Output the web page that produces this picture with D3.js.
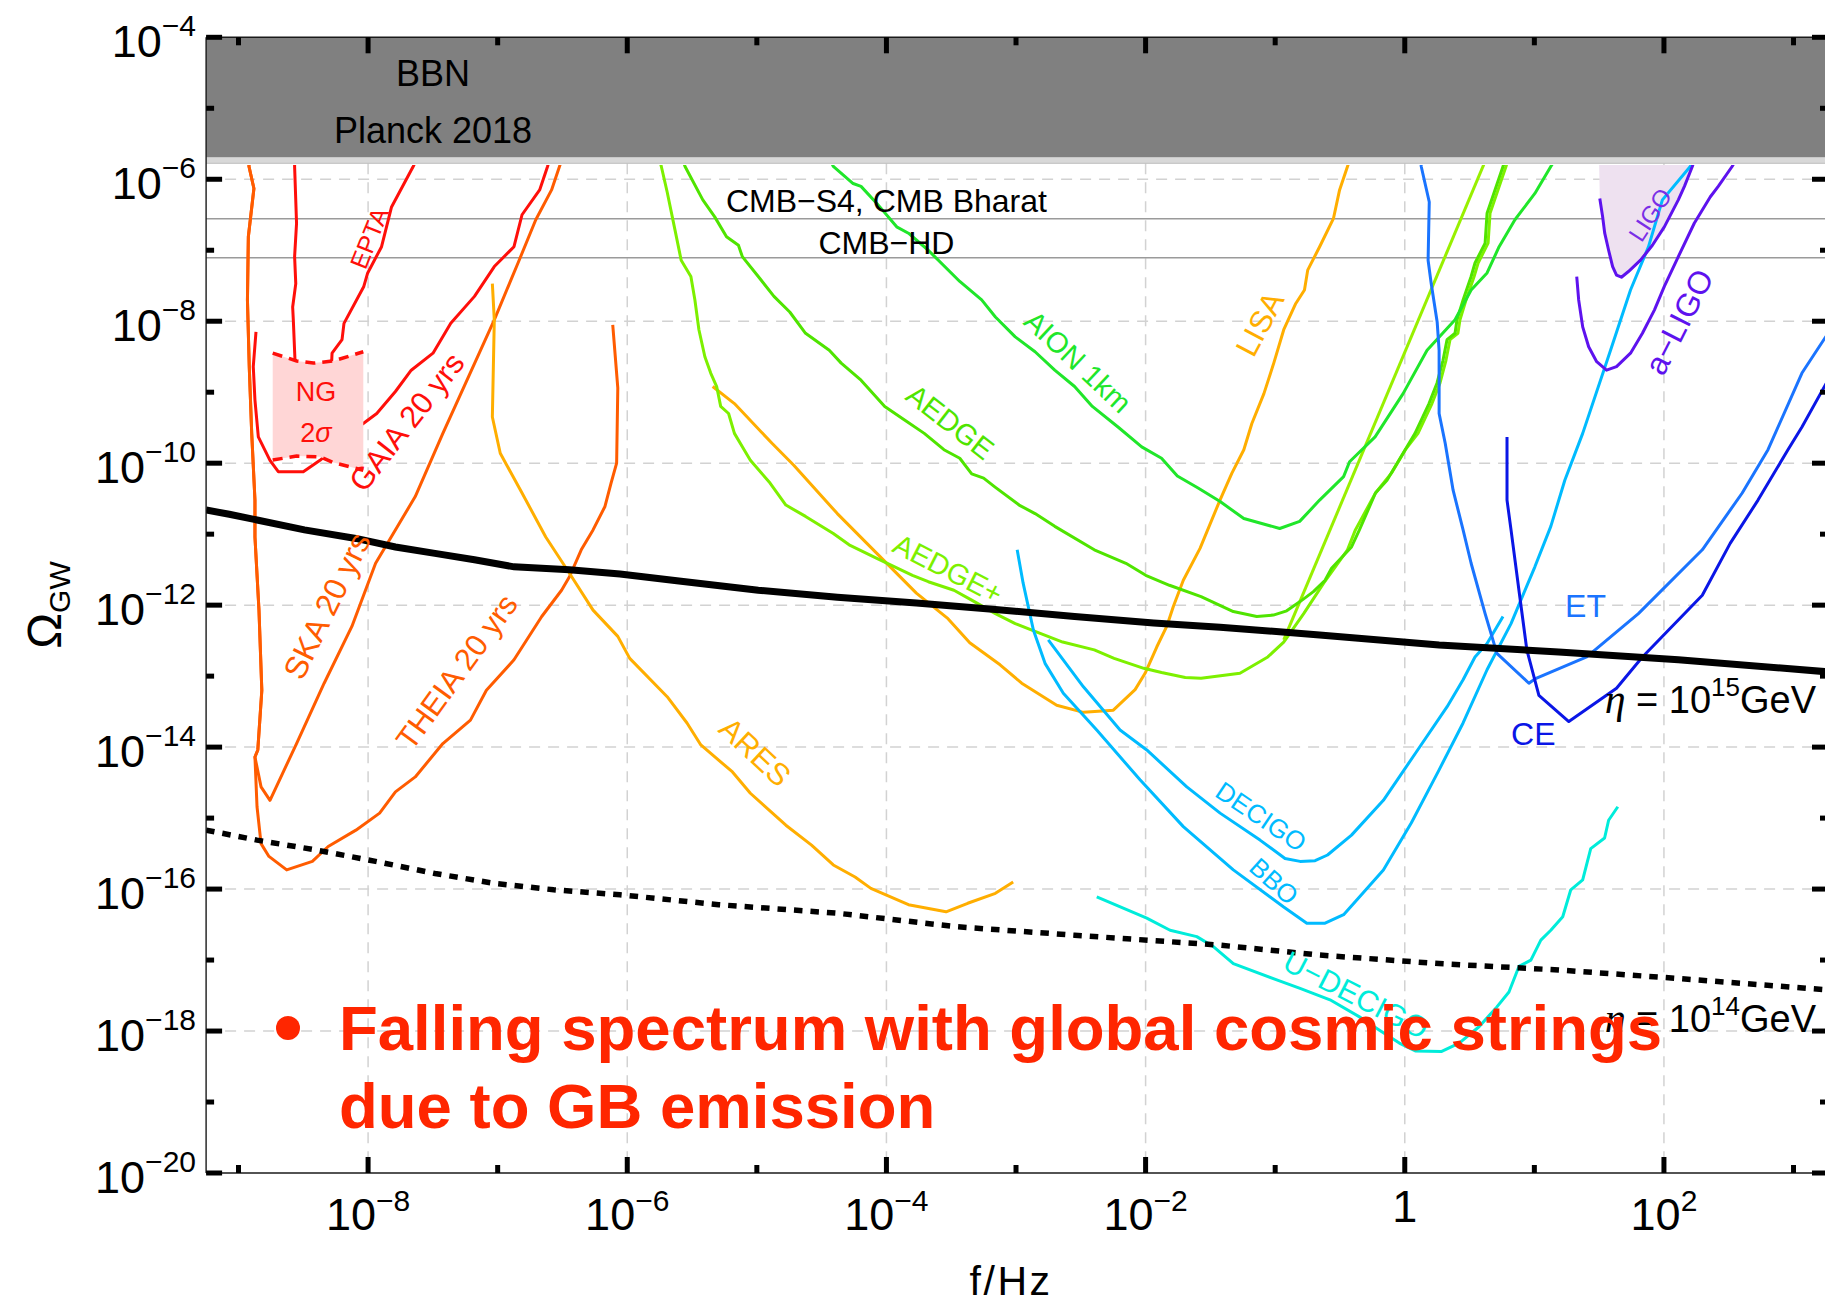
<!DOCTYPE html>
<html>
<head>
<meta charset="utf-8">
<script src="https://cdn.jsdelivr.net/npm/d3@7/dist/d3.min.js"></script>
<style>
  html,body{margin:0;padding:0;background:#ffffff;}
  svg{display:block;}
  text{font-family:"Liberation Sans",Arial,Helvetica,sans-serif;}
</style>
</head>
<body>
<svg id="chart" width="1825" height="1306"></svg>
<script>
// ===== axis ranges and ticks (log10 exponents) =====
const xDomainExp = [-9.25, 3.266];
const yDomainExp = [-20, -4];
const xMajorExp = [-8, -6, -4, -2, 0, 2];
const xMinorExp = [-9, -7, -5, -3, -1, 1, 3];
const yMajorExp = [-4, -6, -8, -10, -12, -14, -16, -18, -20];
const yMinorExp = [-5, -7, -9, -11, -13, -15, -17, -19];

// ===== horizontal bounds (log10 Omega) =====
const bbnBottomExp = -5.69;
const planckBottomExp = -5.775;
const curveTopExp = -5.80;
const cmbS4Exp = -6.556;
const cmbHDExp = -7.105;

// ===== sensitivity curves: [log10 f/Hz, log10 Omega_GW] =====
const SKA = [[-8.92,-5.70],[-8.919,-5.82],[-8.881,-6.13],[-8.924,-6.81],[-8.931,-7.70],[-8.917,-8.64],[-8.898,-9.58],[-8.873,-10.52],[-8.873,-11.04],[-8.842,-12.07],[-8.82,-13.20],[-8.851,-14.04],[-8.873,-14.14],[-8.826,-14.56],[-8.757,-14.75],[-8.552,-13.95],[-8.339,-13.10],[-8.125,-12.30],[-7.942,-11.41],[-7.636,-10.47],[-7.423,-9.58],[-7.026,-7.98],[-6.843,-7.18],[-6.706,-6.57],[-6.584,-6.15],[-6.523,-5.82],[-6.50,-5.70]];
const THEIA = [[-8.92,-5.70],[-8.919,-5.82],[-8.881,-6.13],[-8.924,-6.81],[-8.931,-7.70],[-8.917,-8.64],[-8.898,-9.58],[-8.873,-10.52],[-8.873,-11.04],[-8.842,-12.07],[-8.82,-13.20],[-8.851,-14.04],[-8.873,-14.14],[-8.857,-14.84],[-8.826,-15.36],[-8.765,-15.54],[-8.628,-15.73],[-8.43,-15.61],[-8.308,-15.40],[-8.094,-15.17],[-7.911,-14.93],[-7.789,-14.63],[-7.636,-14.42],[-7.423,-13.95],[-7.21,-13.62],[-7.087,-13.20],[-6.874,-12.77],[-6.66,-12.16],[-6.507,-11.79],[-6.446,-11.60],[-6.355,-11.22],[-6.264,-10.94],[-6.172,-10.61],[-6.125,-10.28],[-6.082,-10.00],[-6.073,-8.94],[-6.112,-8.05]];
const GAIA = [[-8.865,-8.15],[-8.886,-8.64],[-8.873,-9.11],[-8.847,-9.63],[-8.757,-9.96],[-8.693,-10.12],[-8.50,-10.12],[-8.371,-9.96],[-8.037,-9.44],[-7.933,-9.30],[-7.789,-8.99],[-7.667,-8.69],[-7.499,-8.45],[-7.362,-8.03],[-7.179,-7.65],[-7.026,-7.23],[-6.874,-6.95],[-6.812,-6.50],[-6.676,-6.15],[-6.615,-5.82],[-6.597,-5.70]];
const EPTA_low = [[-8.567,-5.70],[-8.567,-5.82],[-8.552,-6.62],[-8.567,-7.09],[-8.558,-7.47],[-8.582,-7.80],[-8.577,-7.98],[-8.564,-8.55]];
const EPTA_high = [[-8.281,-8.57],[-8.278,-8.45],[-8.201,-8.26],[-8.186,-8.03],[-8.033,-7.51],[-8.003,-7.32],[-7.896,-6.95],[-7.819,-6.39],[-7.652,-5.82],[-7.62,-5.70]];
const NG_top = [[-8.736,-8.45],[-8.551,-8.56],[-8.423,-8.59],[-8.268,-8.56],[-8.037,-8.43]];
const NG_bottom = [[-8.736,-9.955],[-8.551,-9.90],[-8.371,-9.91],[-8.268,-9.99],[-8.037,-10.10]];
const ARES = [[-7.041,-7.47],[-7.026,-7.98],[-7.041,-9.35],[-6.98,-9.86],[-6.812,-10.42],[-6.629,-11.04],[-6.446,-11.55],[-6.264,-12.07],[-6.073,-12.44],[-5.981,-12.75],[-5.692,-13.29],[-5.539,-13.66],[-5.432,-13.97],[-5.188,-14.35],[-5.05,-14.65],[-4.776,-15.10],[-4.578,-15.38],[-4.41,-15.66],[-4.242,-15.83],[-4.12,-15.99],[-3.83,-16.22],[-3.54,-16.32],[-3.373,-16.20],[-3.159,-16.06],[-3.022,-15.90]];
const LISA = [[-5.341,-8.92],[-5.173,-9.16],[-4.883,-9.72],[-4.715,-10.03],[-4.379,-10.71],[-4.074,-11.27],[-3.769,-11.83],[-3.525,-12.19],[-3.357,-12.53],[-3.123,-12.84],[-2.956,-13.10],[-2.686,-13.41],[-2.48,-13.51],[-2.249,-13.48],[-2.081,-13.19],[-2.004,-12.96],[-1.914,-12.59],[-1.837,-12.30],[-1.786,-12.02],[-1.709,-11.65],[-1.58,-11.20],[-1.426,-10.52],[-1.334,-10.14],[-1.242,-9.81],[-1.18,-9.44],[-1.087,-9.02],[-1.011,-8.59],[-0.934,-8.12],[-0.841,-7.75],[-0.774,-7.56],[-0.749,-7.28],[-0.657,-6.95],[-0.55,-6.55],[-0.503,-6.15],[-0.442,-5.82],[-0.42,-5.70]];
const AEDGEplus = [[-5.755,-5.70],[-5.737,-5.82],[-5.692,-6.18],[-5.631,-6.72],[-5.584,-7.14],[-5.509,-7.37],[-5.478,-7.70],[-5.447,-8.12],[-5.401,-8.50],[-5.356,-8.73],[-5.31,-8.92],[-5.279,-9.20],[-5.218,-9.30],[-5.173,-9.58],[-5.112,-9.77],[-5.05,-9.96],[-4.898,-10.28],[-4.776,-10.59],[-4.624,-10.75],[-4.41,-10.99],[-4.288,-11.15],[-4.074,-11.34],[-3.799,-11.58],[-3.677,-11.67],[-3.479,-11.79],[-3.342,-11.93],[-3.159,-12.12],[-3.006,-12.26],[-2.853,-12.37],[-2.64,-12.52],[-2.396,-12.63],[-2.243,-12.75],[-2.014,-12.89],[-1.877,-12.95],[-1.694,-13.02],[-1.572,-13.03],[-1.272,-12.96],[-1.057,-12.73],[-0.934,-12.52],[-0.78,-12.12],[-0.626,-11.69],[-0.442,-11.22],[-0.381,-10.94],[-0.226,-10.42],[-0.103,-10.14],[0.005,-9.81],[0.102,-9.58],[0.21,-9.16],[0.272,-8.87],[0.318,-8.55],[0.349,-8.26],[0.41,-8.17],[0.426,-7.98],[0.473,-7.70],[0.535,-7.37],[0.566,-7.18],[0.643,-6.90],[0.658,-6.48],[0.781,-5.82],[0.80,-5.70]];
const AEDGEplusEdge = [[-0.934,-12.49],[0.631,-5.70]];
const AEDGE = [[-5.577,-5.70],[-5.554,-5.82],[-5.417,-6.29],[-5.325,-6.53],[-5.234,-6.81],[-5.142,-6.93],[-5.112,-7.09],[-4.989,-7.37],[-4.868,-7.65],[-4.746,-7.87],[-4.624,-8.17],[-4.441,-8.41],[-4.349,-8.59],[-4.196,-8.83],[-4.013,-9.20],[-3.86,-9.39],[-3.708,-9.58],[-3.556,-9.81],[-3.434,-9.93],[-3.342,-10.15],[-3.25,-10.21],[-3.159,-10.34],[-2.976,-10.59],[-2.853,-10.71],[-2.701,-10.89],[-2.396,-11.22],[-2.152,-11.41],[-1.999,-11.58],[-1.816,-11.72],[-1.572,-11.88],[-1.323,-12.09],[-1.142,-12.16],[-1.014,-12.14],[-0.911,-12.08],[-0.808,-11.95],[-0.705,-11.81],[-0.615,-11.65],[-0.565,-11.48],[-0.411,-11.18],[-0.35,-10.94],[-0.226,-10.42],[-0.137,-10.24],[-0.013,-9.86],[0.079,-9.58],[0.187,-9.16],[0.249,-8.87],[0.295,-8.55],[0.326,-8.26],[0.388,-8.17],[0.403,-7.98],[0.45,-7.70],[0.512,-7.37],[0.542,-7.18],[0.62,-6.90],[0.635,-6.48],[0.758,-5.82],[0.78,-5.70]];
const AION = [[-4.44,-5.70],[-4.41,-5.82],[-4.257,-6.06],[-4.196,-6.10],[-4.074,-6.34],[-3.921,-6.67],[-3.83,-6.76],[-3.677,-7.00],[-3.434,-7.44],[-3.265,-7.70],[-3.159,-7.94],[-3.006,-8.22],[-2.853,-8.43],[-2.701,-8.69],[-2.548,-8.92],[-2.411,-9.20],[-2.213,-9.49],[-2.03,-9.77],[-1.877,-9.93],[-1.755,-10.18],[-1.595,-10.35],[-1.425,-10.54],[-1.242,-10.78],[-0.965,-10.92],[-0.811,-10.82],[-0.657,-10.52],[-0.472,-10.19],[-0.426,-9.98],[-0.229,-9.63],[-0.013,-9.02],[0.172,-8.41],[0.388,-7.98],[0.512,-7.56],[0.635,-7.32],[0.728,-6.95],[0.85,-6.57],[1.004,-6.20],[1.127,-5.82],[1.168,-5.70]];
const DECIGO = [[-2.751,-12.49],[-2.48,-13.15],[-2.197,-13.76],[-1.991,-14.04],[-1.682,-14.56],[-1.425,-14.93],[-1.117,-15.31],[-0.924,-15.57],[-0.808,-15.61],[-0.692,-15.60],[-0.596,-15.52],[-0.411,-15.24],[-0.165,-14.75],[0.081,-14.09],[0.327,-13.43],[0.45,-13.05],[0.542,-12.73],[0.635,-12.54],[0.758,-12.16]];
const BBO = [[-2.991,-11.22],[-2.945,-11.69],[-2.866,-12.35],[-2.776,-12.82],[-2.635,-13.24],[-2.377,-13.76],[-2.043,-14.46],[-1.709,-15.12],[-1.323,-15.73],[-0.937,-16.25],[-0.756,-16.48],[-0.615,-16.48],[-0.472,-16.36],[-0.35,-16.11],[-0.165,-15.73],[0.05,-15.07],[0.265,-14.32],[0.45,-13.66],[0.635,-12.91],[0.82,-12.26],[1.004,-11.46],[1.127,-10.89],[1.235,-10.24],[1.373,-9.58],[1.588,-8.41],[1.742,-7.56],[1.881,-6.95],[1.988,-6.29],[2.203,-5.82],[2.24,-5.70]];
const UDECIGO = [[-2.377,-16.11],[-1.991,-16.41],[-1.811,-16.58],[-1.605,-16.67],[-1.477,-16.81],[-1.323,-17.05],[-0.988,-17.28],[-0.808,-17.40],[-0.577,-17.56],[-0.35,-17.80],[-0.195,-17.99],[-0.042,-18.17],[0.081,-18.28],[0.281,-18.29],[0.42,-18.17],[0.573,-17.94],[0.711,-17.66],[0.804,-17.45],[0.881,-17.09],[0.973,-17.00],[1.05,-16.72],[1.127,-16.58],[1.219,-16.39],[1.281,-16.01],[1.373,-15.87],[1.435,-15.43],[1.542,-15.28],[1.573,-15.03],[1.644,-14.84]];
const ET = [[0.122,-5.70],[0.127,-5.82],[0.189,-6.32],[0.18,-7.14],[0.204,-7.47],[0.25,-8.01],[0.265,-8.41],[0.265,-9.30],[0.312,-9.72],[0.373,-10.38],[0.45,-10.94],[0.512,-11.41],[0.62,-12.12],[0.711,-12.68],[0.958,-13.10],[1.004,-13.04],[1.404,-12.73],[1.803,-12.12],[2.296,-11.22],[2.604,-10.42],[2.803,-9.81],[3.065,-8.73],[3.266,-8.17]];
const CE = [[0.789,-9.63],[0.789,-10.52],[0.82,-10.94],[0.881,-11.79],[0.942,-12.63],[1.035,-13.27],[1.266,-13.64],[1.634,-13.17],[1.834,-12.73],[2.296,-11.86],[2.511,-11.13],[2.726,-10.52],[2.957,-9.81],[3.065,-9.49],[3.266,-8.83]];
const LIGO = [[1.505,-6.27],[1.527,-6.53],[1.543,-6.76],[1.573,-7.00],[1.604,-7.23],[1.634,-7.35],[1.672,-7.38],[1.726,-7.30],[1.819,-7.14],[1.911,-6.93],[2.003,-6.67],[2.111,-6.29],[2.158,-6.10],[2.219,-5.82],[2.24,-5.70]];
const aLIGO = [[1.327,-7.37],[1.342,-7.70],[1.373,-8.08],[1.419,-8.36],[1.481,-8.57],[1.557,-8.69],[1.634,-8.64],[1.742,-8.45],[1.834,-8.17],[1.927,-7.84],[2.003,-7.51],[2.111,-7.09],[2.234,-6.62],[2.357,-6.25],[2.419,-6.10],[2.526,-5.82],[2.564,-5.70]];

// ===== cosmic string spectra =====
const eta15 = [[-9.25,-10.66],[-9.071,-10.72],[-8.857,-10.80],[-8.491,-10.94],[-8.094,-11.06],[-7.789,-11.18],[-7.484,-11.27],[-7.179,-11.36],[-6.874,-11.46],[-6.446,-11.50],[-6.056,-11.56],[-5.601,-11.66],[-4.989,-11.79],[-4.379,-11.89],[-3.769,-11.97],[-3.159,-12.06],[-2.548,-12.16],[-1.938,-12.25],[-1.425,-12.31],[-0.657,-12.42],[0.265,-12.56],[1.188,-12.66],[2.111,-12.77],[3.266,-12.94]];
const eta14 = [[-9.25,-15.17],[-8.857,-15.31],[-8.40,-15.45],[-7.942,-15.61],[-7.484,-15.78],[-7.026,-15.92],[-6.568,-16.01],[-6.056,-16.08],[-5.295,-16.22],[-4.379,-16.34],[-3.464,-16.53],[-2.548,-16.65],[-1.425,-16.79],[-0.657,-16.93],[0.265,-17.05],[1.188,-17.14],[2.111,-17.26],[3.266,-17.42]];

// ===== text =====
const bulletText = ["Falling spectrum with global cosmic strings", "due to GB emission"];

(function draw() {
// ===== colours =====
const C = {
  red:"#FF0F0A", orangeRed:"#FF5C00", orange:"#FFAE00", aedgePlus:"#7DF000", aedgeEdge:"#98F000",
  aedge:"#4FE400", aion:"#20E62A", decigo:"#00BBFF", udecigo:"#00ECDA", et:"#1A74FF",
  ce:"#0A16E6", ligo:"#5E12EE", ligoFill:"#EEE1F0", ngFill:"#FFD6D6", annot:"#FF2600"
};

// ===== scales =====
const svg = d3.select("#chart");
const pL = 206.1, pR = 1828, pT = 37.3, pB = 1173;
const x = d3.scaleLog().domain(xDomainExp.map(e => 10 ** e)).range([pL, pR]);
const y = d3.scaleLog().domain(yDomainExp.map(e => 10 ** e)).range([pB, pT]);
const X = e => x(10 ** e), Y = e => y(10 ** e);
const line = d3.line().x(d => X(d[0])).y(d => Y(d[1]));

// clip
svg.append("defs").append("clipPath").attr("id","plotclip")
  .append("rect").attr("x", pL).attr("y", Y(curveTopExp)).attr("width", pR - pL).attr("height", pB - Y(curveTopExp));

// gridlines
const grid = svg.append("g").attr("stroke","#D2D2D2").attr("stroke-width",1.5).attr("stroke-dasharray","11,8");
xMajorExp.forEach(e => grid.append("line").attr("x1",X(e)).attr("x2",X(e)).attr("y1",Y(planckBottomExp)).attr("y2",pB));
yMajorExp.filter(e => e > -20 && e < -4).forEach(e => grid.append("line").attr("x1",pL).attr("x2",pR).attr("y1",Y(e)).attr("y2",Y(e)));

// CMB lines
[cmbS4Exp, cmbHDExp].forEach(e => svg.append("line").attr("x1",pL).attr("x2",pR).attr("y1",Y(e)).attr("y2",Y(e)).attr("stroke","#9A9A9A").attr("stroke-width",1.5));

const plot = svg.append("g").attr("clip-path","url(#plotclip)");

// LIGO shaded region
const ligoFillPts = [[LIGO[0][0] - 0.006, curveTopExp + 0.1]].concat(LIGO);
plot.append("path").attr("d", line(ligoFillPts) + "Z").attr("fill", C.ligoFill).attr("stroke","none");

const curveList = [
  {d:SKA, c:C.orangeRed}, {d:THEIA, c:C.orangeRed}, {d:GAIA, c:C.red},
  {d:EPTA_low, c:C.red}, {d:EPTA_high, c:C.red},
  {d:ARES, c:C.orange}, {d:LISA, c:C.orange},
  {d:AEDGEplus, c:C.aedgePlus}, {d:AEDGEplusEdge, c:C.aedgeEdge}, {d:AEDGE, c:C.aedge}, {d:AION, c:C.aion},
  {d:DECIGO, c:C.decigo}, {d:BBO, c:C.decigo}, {d:UDECIGO, c:C.udecigo},
  {d:ET, c:C.et}, {d:CE, c:C.ce}, {d:LIGO, c:C.ligo}, {d:aLIGO, c:C.ligo}
];
curveList.forEach(s => plot.append("path").attr("d", line(s.d)).attr("fill","none")
  .attr("stroke", s.c).attr("stroke-width", 3).attr("stroke-linejoin","round"));

// NANOGrav box
const ngPoly = NG_top.concat(NG_bottom.slice().reverse());
plot.append("path").attr("d", line(ngPoly) + "Z").attr("fill", C.ngFill).attr("stroke","none");
[NG_top, NG_bottom].forEach(d => plot.append("path").attr("d", line(d)).attr("fill","none")
  .attr("stroke", C.red).attr("stroke-width",3.5).attr("stroke-dasharray","10,7"));

// cosmic string spectra
plot.append("path").attr("d", line(eta15)).attr("fill","none").attr("stroke","#000").attr("stroke-width",7);
plot.append("path").attr("d", line(eta14)).attr("fill","none").attr("stroke","#000").attr("stroke-width",5.5).attr("stroke-dasharray","8.5,8");

// BBN / Planck band
svg.append("rect").attr("x",pL).attr("y",Y(bbnBottomExp)).attr("width",pR-pL).attr("height",Y(planckBottomExp)-Y(bbnBottomExp)).attr("fill","#D8D8D8");
svg.append("line").attr("x1",pL).attr("x2",pR).attr("y1",Y(planckBottomExp)).attr("y2",Y(planckBottomExp)).attr("stroke","#BDBDBD").attr("stroke-width",1);
svg.append("rect").attr("x",pL).attr("y",pT).attr("width",pR-pL).attr("height",Y(bbnBottomExp)-pT).attr("fill","#808080");

// frame
const frame = svg.append("g").attr("stroke","#1a1a1a").attr("stroke-width",1.4).attr("fill","none");
frame.append("line").attr("x1",pL).attr("x2",pL).attr("y1",pT).attr("y2",pB);
frame.append("line").attr("x1",pL).attr("x2",pR).attr("y1",pB).attr("y2",pB);
frame.append("line").attr("x1",pL).attr("x2",pR).attr("y1",pT).attr("y2",pT);
frame.append("line").attr("x1",pR).attr("x2",pR).attr("y1",pT).attr("y2",pB);

// ticks
const ticks = svg.append("g").attr("stroke","#000").attr("stroke-width",5);
const tickX = (e, len) => {
  ticks.append("line").attr("x1",X(e)).attr("x2",X(e)).attr("y1",pB).attr("y2",pB-len);
  ticks.append("line").attr("x1",X(e)).attr("x2",X(e)).attr("y1",pT).attr("y2",pT+len);
};
const tickY = (e, len) => {
  ticks.append("line").attr("x1",pL).attr("x2",pL+len).attr("y1",Y(e)).attr("y2",Y(e));
  ticks.append("line").attr("x1",pR).attr("x2",pR-len).attr("y1",Y(e)).attr("y2",Y(e));
};
xMajorExp.forEach(e => tickX(e, 16)); xMinorExp.forEach(e => tickX(e, 8));
yMajorExp.forEach(e => tickY(e, 16)); yMinorExp.forEach(e => tickY(e, 8));

// tick labels
const minus = "\u2212";
xMajorExp.forEach(e => {
  const t = svg.append("text").attr("x", X(e)).attr("text-anchor","middle").attr("font-size",45).attr("fill","#000");
  if (e === 0) { t.attr("y", 1222).text("1"); }
  else {
    t.attr("y", 1230);
    t.append("tspan").text("10");
    t.append("tspan").attr("font-size",30).attr("dy",-19).text((e < 0 ? minus : "") + Math.abs(e));
  }
});
yMajorExp.forEach(e => {
  const t = svg.append("text").attr("x", 196).attr("y", Y(e) + 20).attr("text-anchor","end").attr("font-size",45).attr("fill","#000");
  t.append("tspan").text("10");
  t.append("tspan").attr("font-size",30).attr("dy",-21).text(minus + Math.abs(e));
});

// axis titles
svg.append("text").attr("x",(pL+pR)/2 - 6).attr("y",1295).attr("text-anchor","middle")
  .attr("font-size",41).attr("letter-spacing",2.5).text("f/Hz");
const yt = svg.append("text").attr("transform","translate(61,605) rotate(-90)").attr("text-anchor","middle").attr("font-size",48);
yt.append("tspan").text("\u03A9");
yt.append("tspan").attr("font-size",30).attr("dy",9).text("GW");

// band / CMB text
const plain = (txt, fe, oe, size, anchor) => svg.append("text").attr("x",X(fe)).attr("y",Y(oe))
  .attr("text-anchor",anchor||"middle").attr("font-size",size).attr("fill","#000").text(txt);
plain("BBN", -7.499, -4.68, 36);
plain("Planck 2018", -7.499, -5.485, 36);
plain("CMB" + minus + "S4, CMB Bharat", -4.0, -6.457, 32);
plain("CMB" + minus + "HD", -4.0, -7.053, 32);

// curve labels
const rotLabel = (txt, fe, oe, ang, size, col) => svg.append("text")
  .attr("transform",`translate(${X(fe)},${Y(oe)}) rotate(${ang})`)
  .attr("text-anchor","middle").attr("dominant-baseline","central")
  .attr("font-size",size).attr("fill",col).text(txt);
rotLabel("EPTA", -7.993, -6.827, -68, 25, C.red);
rotLabel("GAIA 20 yrs", -7.70, -9.42, -52, 31, C.red);
rotLabel("SKA 20 yrs", -8.317, -12.01, -64, 32, C.orangeRed);
rotLabel("THEIA 20 yrs", -7.314, -12.94, -54, 31, C.orangeRed);
rotLabel("ARES", -5.014, -14.07, 43, 31, C.orange);
rotLabel("LISA", -1.117, -8.04, -62, 31, C.orange);
rotLabel("AEDGE", -3.509, -9.42, 38, 29, C.aedge);
rotLabel("AEDGE+", -3.525, -11.49, 27, 29, C.aedgePlus);
rotLabel("AION 1km", -2.522, -8.57, 43, 29, C.aion);
rotLabel("DECIGO", -1.109, -14.98, 34, 26, C.decigo);
rotLabel("BBO", -1.009, -15.89, 42, 26, C.decigo);
rotLabel("U" + minus + "DECIGO", -0.376, -17.49, 27, 30, C.udecigo);
rotLabel("LIGO", 1.893, -6.50, -57, 24, "#7A2EE6");
rotLabel("a" + minus + "LIGO", 2.117, -8.01, -63, 32, C.ligo);
plain("ET", 1.237, -12.16, 32, "start").attr("fill", C.et);
plain("CE", 0.82, -13.97, 32, "start").attr("fill", C.ce);
plain("NG", -8.402, -9.13, 27).attr("fill", C.red);
const ng2 = plain("", -8.402, -9.70, 27).attr("fill", C.red);
ng2.append("tspan").text("2");
ng2.append("tspan").attr("font-style","italic").text("\u03C3");

// eta labels
const etaLabel = (oe, pw) => {
  const t = svg.append("text").attr("x", X(3.174)).attr("y", Y(oe)).attr("text-anchor","end").attr("font-size",38).attr("fill","#000");
  t.append("tspan").attr("font-family","'Liberation Serif',serif").attr("font-style","italic").attr("font-size",42).text("\u03B7");
  t.append("tspan").text(" = 10");
  t.append("tspan").attr("font-size",26).attr("dy",-17).text(pw);
  t.append("tspan").attr("dy",17).text("GeV");
};
etaLabel(-13.52, "15");
etaLabel(-18.01, "14");

// annotation
svg.append("circle").attr("cx",288).attr("cy",1028).attr("r",12).attr("fill",C.annot);
bulletText.forEach((s, i) => svg.append("text").attr("x",339).attr("y",1050 + i * 77.7)
  .attr("font-size",63.5).attr("font-weight","bold").attr("fill",C.annot).text(s));
})();
</script>
</body>
</html>
